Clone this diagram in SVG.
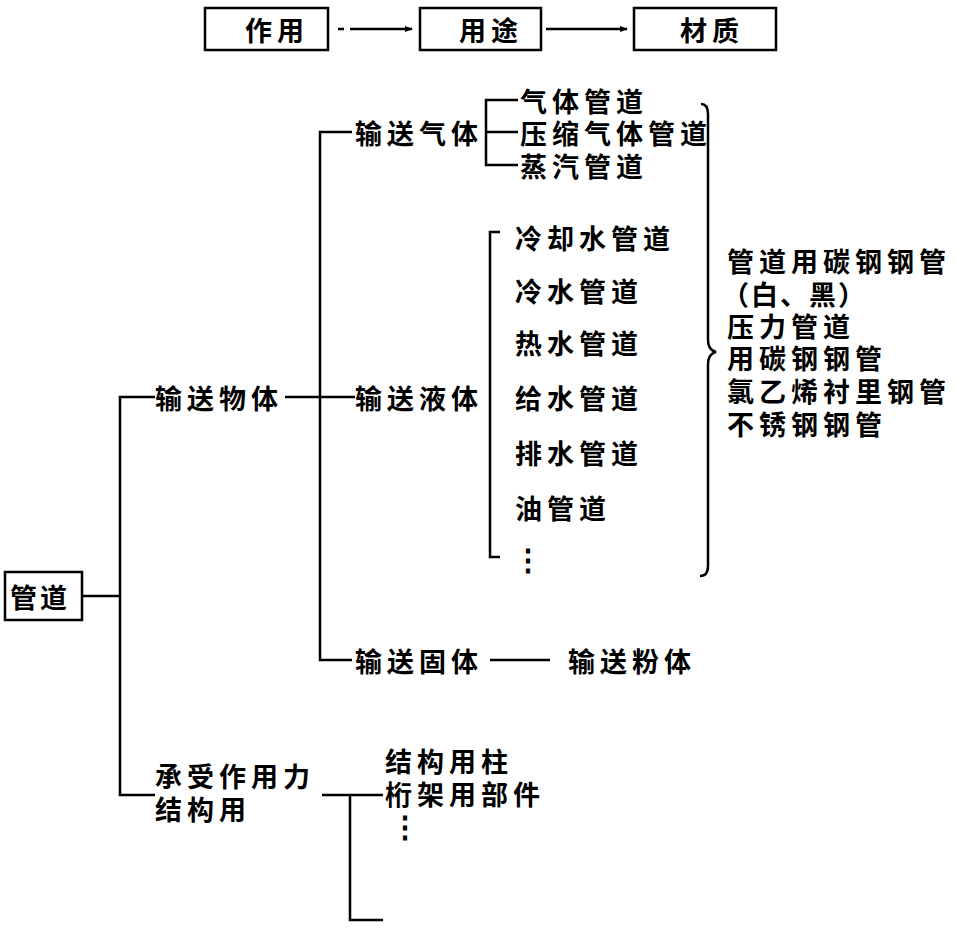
<svg xmlns="http://www.w3.org/2000/svg" width="956" height="929" viewBox="0 0 956 929">
<style>
text{font-family:"Noto Sans CJK SC","Noto Sans CJK TC",sans-serif;font-size:27px;font-weight:bold;fill:#000;dominant-baseline:central;letter-spacing:5px}
.ln{stroke:#000;stroke-width:2.5;fill:none}
.box{stroke:#000;stroke-width:2.5;fill:#fff}
</style>
<defs>
<marker id="ah" viewBox="0 0 10 10" refX="9" refY="5" markerWidth="8" markerHeight="8" markerUnits="userSpaceOnUse" orient="auto">
<path d="M0,1 L10,5 L0,9 Z" fill="#000"/>
</marker>
</defs>
<rect width="956" height="929" fill="#fff"/>
<g id="connectors">
<line class="ln" x1="338" y1="29" x2="344" y2="29"/>
<line class="ln" x1="350" y1="29" x2="412" y2="29" marker-end="url(#ah)"/>
<line class="ln" x1="546" y1="29" x2="627" y2="29" marker-end="url(#ah)"/>
<line class="ln" x1="82" y1="596" x2="120" y2="596"/>
<polyline class="ln" points="155,397 120,397 120,795 155,795"/>
<line class="ln" x1="285" y1="397" x2="355" y2="397"/>
<polyline class="ln" points="352,132 320,132 320,660 352,660"/>
<polyline class="ln" points="518,100 486,100 486,165 518,165"/>
<line class="ln" x1="486" y1="132" x2="518" y2="132"/>
<polyline class="ln" points="500,232 490,232 490,557 500,557"/>
<path class="ln" d="M701,104 Q708,104 708,114 L708,340 Q708,350 716,352 Q708,354 708,364 L708,566 Q708,576 700,576"/>
<line class="ln" x1="490" y1="660" x2="550" y2="660"/>
<line class="ln" x1="322" y1="795" x2="383" y2="795"/>
<polyline class="ln" points="350,795 350,920 383,920"/>
</g>
<g id="n-zuoyong"><rect class="box" x="205" y="8" width="123" height="42"/><text x="245" y="29">作用</text></g>
<g id="n-yongtu"><rect class="box" x="420" y="8" width="121" height="42"/><text x="459" y="29">用途</text></g>
<g id="n-caizhi"><rect class="box" x="634" y="8" width="142" height="42"/><text x="680" y="29">材质</text></g>
<g id="n-guandao"><rect class="box" x="5" y="572" width="77" height="48"/><text x="10" y="596" style="letter-spacing:3px">管道</text></g>
<g id="n-wuti"><text x="155" y="397">输送物体</text></g>
<g id="n-qiti"><text x="355" y="132">输送气体</text></g>
<g id="n-yeti"><text x="355" y="397">输送液体</text></g>
<g id="n-guti"><text x="355" y="660">输送固体</text></g>
<g id="n-fenti"><text x="568" y="660">输送粉体</text></g>
<g id="n-gas-items">
<text x="520" y="100">气体管道</text>
<text x="520" y="132">压缩气体管道</text>
<text x="520" y="165">蒸汽管道</text>
</g>
<g id="n-liquid-items">
<text x="515" y="237">冷却水管道</text>
<text x="515" y="290">冷水管道</text>
<text x="515" y="342">热水管道</text>
<text x="515" y="397">给水管道</text>
<text x="515" y="452">排水管道</text>
<text x="515" y="507">油管道</text>
<text x="513" y="557" style="font-size:30px;letter-spacing:0">⋮</text>
</g>
<g id="n-materials">
<text x="727" y="260">管道用碳钢钢管</text>
<text x="722" y="293" style="letter-spacing:2px">（白、黑）</text>
<text x="727" y="325">压力管道</text>
<text x="727" y="357">用碳钢钢管</text>
<text x="727" y="390">氯乙烯衬里钢管</text>
<text x="727" y="423">不锈钢钢管</text>
</g>
<g id="n-jiegou">
<text x="155" y="775">承受作用力</text>
<text x="155" y="808">结构用</text>
</g>
<g id="n-jiegou-items">
<text x="385" y="760">结构用柱</text>
<text x="385" y="793">桁架用部件</text>
<text x="390" y="824" style="font-size:30px;letter-spacing:0">⋮</text>
</g>
</svg>
